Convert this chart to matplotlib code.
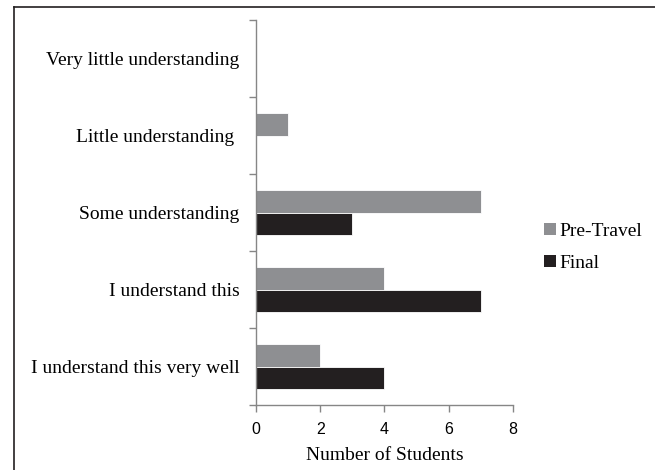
import numpy as np
import matplotlib.pyplot as plt
from matplotlib.patches import Patch

# categories listed top to bottom
categories = ['Very little understanding', 'Little understanding ', 'Some understanding',
              'I understand this', 'I understand this very well']
pre_travel = [0, 1, 7, 4, 2]
final = [0, 0, 3, 7, 4]
x_ticks = [0, 2, 4, 6, 8]

gray = '#8e8f92'
dark = '#231f20'
axis_col = '#868686'
serif = ['Liberation Serif', 'DejaVu Serif']
sans = ['Liberation Sans', 'DejaVu Sans']

fig = plt.figure(figsize=(6.55, 4.7), dpi=100)
ax = fig.add_axes([0.3908, 0.1383, 0.3924, 0.8191])

y = np.arange(len(categories))
h = 0.286
ax.barh(y - h / 2, pre_travel, height=h, color=gray, edgecolor='white', linewidth=0.6, label='Pre-Travel')
ax.barh(y + h / 2, final, height=h, color=dark, edgecolor='white', linewidth=0.6, label='Final')

ax.set_ylim(len(categories) - 0.5, -0.5)
ax.set_xlim(0, 8)
ax.set_xticks(x_ticks)
ax.set_xticklabels([str(t) for t in x_ticks], family=sans, fontsize=11.5)

ax.set_yticks(y)
ax.set_yticklabels(categories, family=serif, fontsize=14)
ax.tick_params(axis='y', which='major', length=0, pad=12)
ax.set_yticks(np.arange(len(categories) + 1) - 0.5, minor=True)
ax.tick_params(axis='y', which='minor', length=5, color=axis_col, width=1)
ax.tick_params(axis='x', length=5, color=axis_col, width=1, pad=7)

for s in ['top', 'right']:
    ax.spines[s].set_visible(False)
for s in ['left', 'bottom']:
    ax.spines[s].set_color(axis_col)
    ax.spines[s].set_linewidth(1)

ax.set_xlabel('Number of Students', family=serif, fontsize=14, labelpad=7.5)

handles = [Patch(facecolor=gray, edgecolor='none'), Patch(facecolor=dark, edgecolor='none')]
leg = fig.legend(handles, ['Pre-Travel', 'Final'], loc='center left',
                 bbox_to_anchor=(0.804, 0.474), frameon=False,
                 prop={'family': serif, 'size': 14},
                 handlelength=0.6, handleheight=0.6, handletextpad=0.2, labelspacing=0.75)

# frame round the figure (top and left edges visible)
fig.add_artist(plt.Line2D([14 / 655, 14 / 655], [0, 1 - 7 / 470], transform=fig.transFigure,
                          color='#231f20', linewidth=1.2))
fig.add_artist(plt.Line2D([14 / 655, 1], [1 - 7 / 470, 1 - 7 / 470], transform=fig.transFigure,
                          color='#231f20', linewidth=1.2))

fig.savefig('out.png', dpi=100)
